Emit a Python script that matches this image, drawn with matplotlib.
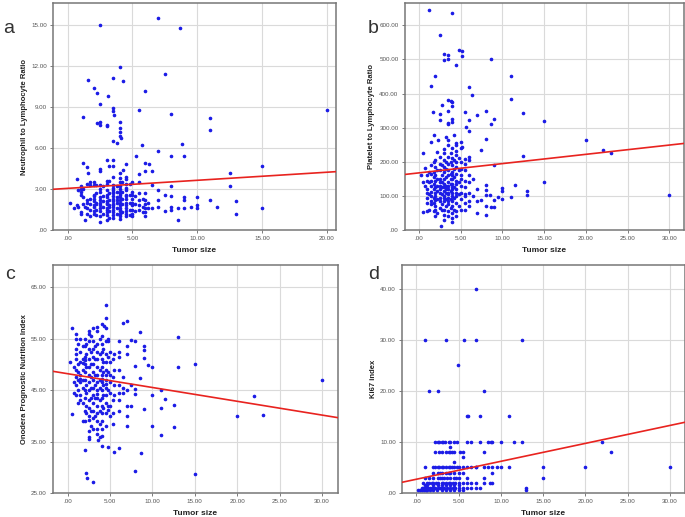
import numpy as np
import matplotlib
matplotlib.use("Agg")
import matplotlib.pyplot as plt
from matplotlib.ticker import FuncFormatter

plt.rcParams["font.family"] = ["Liberation Sans", "DejaVu Sans"]

# ---- panel a : tumor size vs NLR
nlr_pts = [
    (2.5, 15.0), (7.0, 15.5), (8.7, 14.8), (4.0, 11.9), (7.5, 11.4), (3.5, 11.1), (1.6, 11.0),
    (4.3, 10.9), (2.0, 10.4), (6.0, 10.2), (2.3, 10.0), (3.1, 9.8), (2.5, 9.2), (3.5, 8.9),
    (3.5, 8.7), (5.5, 8.8), (8.0, 8.5), (3.6, 8.4), (1.2, 8.3), (11.0, 8.2), (20.0, 8.8),
    (2.5, 7.9), (2.3, 7.8), (2.5, 7.7), (3.0, 7.7), (3.0, 7.6), (4.0, 7.9), (4.0, 7.5),
    (4.0, 7.2), (11.0, 7.3), (4.0, 6.9), (4.1, 6.7), (3.5, 6.5), (3.8, 6.4), (8.8, 6.3),
    (5.7, 6.2), (7.0, 5.8), (5.3, 5.4), (8.0, 5.4), (9.0, 5.4), (3.0, 5.1), (3.5, 5.1),
    (1.2, 4.9), (6.0, 4.9), (6.3, 4.8), (4.5, 4.8), (15.0, 4.7), (3.2, 4.7), (3.5, 4.7),
    (2.5, 4.5), (1.5, 4.6), (2.5, 4.3), (1.6, 4.2), (6.0, 4.3), (6.5, 4.3), (12.5, 4.2),
    (5.5, 4.1), (4.0, 4.2), (4.3, 4.4),
    (0.2, 2.0), (0.5, 1.6), (0.7, 3.7), (0.7, 1.8), (0.8, 2.9), (0.8, 1.7),
    (1.0, 3.2), (1.0, 3.0), (1.0, 2.6), (1.0, 1.3), (1.0, 1.2), (1.0, 2.8),
    (1.2, 3.0), (1.2, 2.4), (1.2, 1.9), (1.3, 0.7), (1.3, 1.7),
    (1.5, 3.4), (1.5, 2.0), (1.5, 1.2), (1.5, 1.6), (1.5, 2.2),
    (1.7, 3.5), (1.7, 3.3), (1.7, 2.3), (1.7, 1.9), (1.7, 1.0), (1.7, 1.5),
    (2.0, 3.5), (2.0, 3.3), (2.0, 2.6), (2.0, 2.5), (2.0, 2.1), (2.0, 1.8), (2.0, 1.4),
    (2.0, 1.2), (2.0, 1.7), (2.0, 2.3),
    (2.2, 3.3), (2.2, 2.7), (2.2, 2.0), (2.2, 1.5), (2.2, 1.1), (2.2, 1.9),
    (2.5, 3.3), (2.5, 3.0), (2.5, 2.8), (2.5, 2.2), (2.5, 2.0), (2.5, 1.8), (2.5, 1.6),
    (2.5, 1.4), (2.5, 1.0), (2.5, 0.6), (2.5, 2.4),
    (2.7, 3.2), (2.7, 2.5), (2.7, 1.7), (2.7, 1.2), (2.7, 2.1),
    (3.0, 3.6), (3.0, 3.4), (3.0, 2.9), (3.0, 2.6), (3.0, 2.4), (3.0, 2.1), (3.0, 1.9),
    (3.0, 1.6), (3.0, 1.3), (3.0, 1.1), (3.0, 0.7), (3.0, 2.0), (3.0, 1.5),
    (3.2, 3.6), (3.2, 2.7), (3.2, 2.2), (3.2, 1.8), (3.2, 1.4), (3.2, 0.9), (3.2, 1.7),
    (3.5, 3.9), (3.5, 3.3), (3.5, 3.1), (3.5, 2.9), (3.5, 2.7), (3.5, 2.5), (3.5, 2.3),
    (3.5, 2.1), (3.5, 1.9), (3.5, 1.7), (3.5, 1.5), (3.5, 1.3), (3.5, 1.1), (3.5, 0.9),
    (3.5, 2.8), (3.5, 1.8),
    (3.8, 3.2), (3.8, 2.8), (3.8, 2.4), (3.8, 2.0), (3.8, 1.6), (3.8, 1.2), (3.8, 2.2),
    (4.0, 3.8), (4.0, 3.5), (4.0, 3.2), (4.0, 3.0), (4.0, 2.8), (4.0, 2.6), (4.0, 2.4),
    (4.0, 2.2), (4.0, 2.0), (4.0, 1.8), (4.0, 1.6), (4.0, 1.4), (4.0, 1.2), (4.0, 1.0),
    (4.0, 0.8), (4.0, 2.7), (4.0, 1.5),
    (4.2, 3.5), (4.2, 2.8), (4.2, 2.3), (4.2, 1.9), (4.2, 1.3),
    (4.5, 3.9), (4.5, 3.7), (4.5, 3.4), (4.5, 3.1), (4.5, 2.9), (4.5, 2.6), (4.5, 2.3),
    (4.5, 2.0), (4.5, 1.8), (4.5, 1.6), (4.5, 1.4), (4.5, 1.2), (4.5, 1.0), (4.5, 2.5),
    (4.8, 3.4), (4.8, 2.6), (4.8, 2.0), (4.8, 1.5), (4.8, 1.1),
    (5.0, 3.5), (5.0, 2.8), (5.0, 2.6), (5.0, 2.3), (5.0, 2.0), (5.0, 1.8), (5.0, 1.5),
    (5.0, 1.2), (5.0, 1.0),
    (5.2, 2.5), (5.2, 1.9), (5.2, 1.4),
    (5.5, 3.5), (5.5, 2.7), (5.5, 2.2), (5.5, 1.8), (5.5, 1.5),
    (5.8, 2.3), (5.8, 1.7), (5.8, 1.3),
    (6.0, 2.7), (6.0, 1.9), (6.0, 1.6), (6.0, 1.3), (6.0, 1.0), (6.0, 2.2),
    (6.2, 2.0), (6.2, 1.6), (6.5, 3.3), (6.5, 1.6),
    (7.0, 2.9), (7.0, 2.2), (7.0, 1.7), (7.5, 2.6), (7.5, 1.4),
    (8.0, 3.2), (8.0, 2.5), (8.0, 1.7), (8.0, 1.5), (8.5, 0.7), (8.5, 1.6),
    (9.0, 2.4), (9.0, 2.2), (9.0, 1.6), (9.5, 1.7), (10.0, 2.4), (10.0, 1.8), (10.0, 1.6),
    (11.0, 2.2), (11.5, 1.7), (12.5, 3.2), (13.0, 2.1), (13.0, 1.2), (15.0, 1.6),
]

# ---- panel b : tumor size vs PLR
plr_pts = [
    (1.2, 645), (4.0, 636), (2.5, 572), (4.8, 528), (5.2, 525), (3.0, 515), (3.5, 512),
    (5.2, 510), (3.0, 497), (3.5, 500), (8.7, 500), (4.5, 485), (11.0, 450), (2.0, 450),
    (1.5, 423), (6.0, 420), (6.4, 395), (11.0, 384), (3.5, 382), (3.8, 378), (4.0, 376),
    (4.0, 363), (2.8, 365), (1.7, 347), (3.5, 348), (5.5, 346), (8.0, 348), (12.5, 343),
    (2.5, 340), (7.0, 338), (9.0, 325), (2.5, 323), (4.0, 324), (6.0, 323), (15.0, 319),
    (3.5, 315), (4.0, 317), (3.5, 312), (8.7, 312), (5.7, 303), (6.0, 290), (1.8, 280),
    (4.2, 280), (3.3, 273), (8.0, 268), (20.0, 265), (3.5, 263), (2.3, 263), (1.5, 257),
    (5.0, 257), (4.5, 255), (5.2, 242), (3.0, 237), (7.5, 235), (22.0, 235), (4.5, 233),
    (23.0, 226), (0.5, 226), (12.5, 218), (6.0, 213), (6.0, 205), (5.5, 208),
    (9.0, 190), (15.0, 140), (11.5, 133), (13.0, 113), (13.0, 103), (10.0, 123), (10.0, 115),
    (10.0, 90), (11.0, 97), (9.5, 96), (9.0, 88), (8.0, 133), (8.0, 117), (8.0, 103),
    (8.0, 70), (8.0, 45), (8.5, 103), (8.7, 68), (9.0, 68), (7.0, 120), (7.0, 85), (7.0, 50),
    (7.5, 88), (6.5, 150), (6.5, 100), (6.0, 160), (6.0, 140), (6.0, 85), (6.0, 110),
    (30.0, 103), (2.7, 12), (3.0, 30), (4.0, 23),
    (0.3, 160), (0.5, 53), (0.5, 140), (0.7, 183), (0.7, 130),
    (1.0, 57), (1.0, 120), (1.0, 160), (1.0, 95), (1.0, 80), (1.0, 110), (1.0, 145),
    (1.2, 105), (1.2, 170), (1.2, 140), (1.2, 60),
    (1.5, 75), (1.5, 100), (1.5, 130), (1.5, 165), (1.5, 190), (1.5, 145), (1.5, 112), (1.5, 85),
    (1.8, 55), (1.8, 80), (1.8, 120), (1.8, 155), (1.8, 200), (1.8, 170), (1.8, 135), (1.8, 95),
    (2.0, 40), (2.0, 70), (2.0, 100), (2.0, 125), (2.0, 160), (2.0, 185), (2.0, 205),
    (2.0, 145), (2.0, 110), (2.0, 88), (2.0, 60),
    (2.2, 50), (2.2, 90), (2.2, 130), (2.2, 175), (2.2, 230), (2.2, 115), (2.2, 150),
    (2.5, 65), (2.5, 95), (2.5, 110), (2.5, 130), (2.5, 150), (2.5, 175), (2.5, 195),
    (2.5, 215), (2.5, 120), (2.5, 85), (2.5, 140),
    (2.8, 75), (2.8, 105), (2.8, 125), (2.8, 160), (2.8, 190), (2.8, 140), (2.8, 58),
    (3.0, 45), (3.0, 60), (3.0, 85), (3.0, 100), (3.0, 115), (3.0, 135), (3.0, 150),
    (3.0, 170), (3.0, 185), (3.0, 205), (3.0, 225), (3.0, 125), (3.0, 95),
    (3.2, 70), (3.2, 90), (3.2, 110), (3.2, 130), (3.2, 155), (3.2, 180), (3.2, 200), (3.2, 120),
    (3.5, 40), (3.5, 55), (3.5, 75), (3.5, 95), (3.5, 105), (3.5, 120), (3.5, 140),
    (3.5, 160), (3.5, 175), (3.5, 195), (3.5, 215), (3.5, 250), (3.5, 110), (3.5, 130), (3.5, 85),
    (3.8, 65), (3.8, 90), (3.8, 115), (3.8, 135), (3.8, 165), (3.8, 200), (3.8, 225), (3.8, 150),
    (4.0, 35), (4.0, 50), (4.0, 70), (4.0, 85), (4.0, 100), (4.0, 120), (4.0, 135),
    (4.0, 150), (4.0, 170), (4.0, 190), (4.0, 210), (4.0, 240), (4.0, 110), (4.0, 160), (4.0, 125),
    (4.2, 60), (4.2, 95), (4.2, 125), (4.2, 155), (4.2, 180), (4.2, 205),
    (4.5, 40), (4.5, 55), (4.5, 80), (4.5, 100), (4.5, 120), (4.5, 145), (4.5, 165),
    (4.5, 185), (4.5, 200), (4.5, 220), (4.5, 250), (4.5, 110), (4.5, 135),
    (4.8, 70), (4.8, 105), (4.8, 140), (4.8, 175), (4.8, 210),
    (5.0, 60), (5.0, 90), (5.0, 110), (5.0, 130), (5.0, 160), (5.0, 180), (5.0, 200),
    (5.0, 150), (5.0, 240),
    (5.5, 60), (5.5, 80), (5.5, 105), (5.5, 125), (5.5, 145), (5.5, 175), (5.5, 195), (5.5, 100),
    (6.0, 70),
]

# ---- panel c : tumor size vs Onodera PNI
pni_pts = [
    (4.5, 61.5), (4.5, 59.0), (7.0, 58.5), (6.5, 58.0), (4.3, 57.5), (0.5, 57.0), (3.0, 57.0),
    (3.5, 57.2), (4.0, 57.8), (8.5, 56.3), (1.0, 56.0), (2.5, 56.0), (13.0, 55.3), (4.7, 55.0),
    (7.5, 54.8), (8.0, 54.5), (6.0, 54.5), (9.0, 53.5), (9.0, 52.8), (7.0, 53.5), (9.0, 51.3),
    (13.0, 49.5), (15.0, 50.0), (8.0, 49.7), (9.5, 49.8), (10.0, 49.5), (30.0, 47.0),
    (8.5, 47.3), (7.5, 46.0), (8.0, 45.2), (8.0, 44.3), (11.0, 45.1), (10.0, 44.0),
    (22.0, 43.9), (11.5, 43.3), (12.5, 42.2), (9.0, 41.3), (11.0, 41.5), (20.0, 40.0),
    (23.0, 40.1), (7.0, 40.0), (10.0, 38.0), (12.5, 37.8), (7.0, 38.1), (11.0, 36.3),
    (5.3, 38.4), (4.7, 34.0), (4.0, 34.2), (5.5, 33.0), (6.0, 33.7), (8.7, 32.8), (2.1, 33.3),
    (8.0, 29.3), (15.0, 28.6), (2.2, 28.8), (2.3, 27.9), (3.0, 27.1), (0.5, 40.3),
    (3.6, 35.3), (2.5, 35.8), (2.5, 35.5), (3.8, 35.9),
    (0.3, 50.5), (0.8, 49.5), (0.8, 46.5), (0.8, 44.5),
    (1.0, 55.0), (1.0, 53.0), (1.0, 51.0), (1.0, 49.0), (1.0, 47.5), (1.0, 46.0), (1.0, 44.0), (1.0, 52.0),
    (1.2, 54.0), (1.2, 50.0), (1.2, 47.0), (1.2, 45.0), (1.2, 42.5), (1.2, 48.5),
    (1.5, 55.0), (1.5, 52.5), (1.5, 50.5), (1.5, 48.0), (1.5, 46.5), (1.5, 44.0), (1.5, 43.0), (1.5, 47.2),
    (1.8, 53.5), (1.8, 51.0), (1.8, 49.0), (1.8, 47.0), (1.8, 45.5), (1.8, 42.5), (1.8, 39.0), (1.8, 50.2),
    (2.0, 55.0), (2.0, 53.5), (2.0, 51.5), (2.0, 50.0), (2.0, 48.5), (2.0, 47.0), (2.0, 45.0),
    (2.0, 43.5), (2.0, 41.0), (2.0, 39.0), (2.0, 50.8),
    (2.2, 54.0), (2.2, 52.0), (2.2, 49.5), (2.2, 46.0), (2.2, 44.5), (2.2, 42.0), (2.2, 40.5),
    (2.5, 56.5), (2.5, 54.5), (2.5, 53.0), (2.5, 51.0), (2.5, 49.5), (2.5, 48.0), (2.5, 46.5),
    (2.5, 45.0), (2.5, 43.0), (2.5, 41.5), (2.5, 40.0), (2.5, 37.0), (2.5, 39.2),
    (2.8, 55.5), (2.8, 52.5), (2.8, 50.0), (2.8, 47.5), (2.8, 45.5), (2.8, 43.5), (2.8, 41.0), (2.8, 38.0),
    (3.0, 54.5), (3.0, 53.0), (3.0, 51.5), (3.0, 50.0), (3.0, 48.5), (3.0, 47.0), (3.0, 45.5),
    (3.0, 44.0), (3.0, 42.5), (3.0, 41.0), (3.0, 39.5), (3.0, 37.5),
    (3.2, 53.5), (3.2, 51.0), (3.2, 48.0), (3.2, 46.0), (3.2, 43.5), (3.2, 40.0),
    (3.5, 56.5), (3.5, 54.0), (3.5, 52.5), (3.5, 51.0), (3.5, 49.5), (3.5, 48.0), (3.5, 46.5),
    (3.5, 45.0), (3.5, 43.5), (3.5, 42.0), (3.5, 40.5), (3.5, 39.0), (3.5, 37.5), (3.5, 36.5), (3.5, 44.2),
    (3.8, 55.0), (3.8, 52.0), (3.8, 49.0), (3.8, 47.0), (3.8, 45.5), (3.8, 43.0), (3.8, 41.0), (3.8, 38.5),
    (4.0, 55.5), (4.0, 54.0), (4.0, 52.5), (4.0, 51.0), (4.0, 49.5), (4.0, 48.0), (4.0, 46.5),
    (4.0, 45.0), (4.0, 43.5), (4.0, 42.0), (4.0, 40.5), (4.0, 39.0), (4.0, 37.5), (4.0, 36.0), (4.0, 47.2),
    (4.2, 53.0), (4.2, 50.5), (4.2, 48.5), (4.2, 46.0), (4.2, 44.0), (4.2, 41.5),
    (4.5, 57.0), (4.5, 54.5), (4.5, 52.0), (4.5, 50.5), (4.5, 49.0), (4.5, 48.0), (4.5, 47.0),
    (4.5, 45.5), (4.5, 44.0), (4.5, 42.5), (4.5, 40.5), (4.5, 38.0), (4.5, 46.2),
    (4.8, 54.5), (4.8, 51.5), (4.8, 48.5), (4.8, 45.0), (4.8, 42.0), (4.8, 41.2),
    (5.0, 52.5), (5.0, 50.5), (5.0, 48.0), (5.0, 46.5), (5.0, 44.5), (5.0, 42.0), (5.0, 40.0),
    (5.3, 51.0), (5.3, 47.5), (5.3, 43.0), (5.3, 40.5),
    (5.5, 52.0), (5.5, 49.0), (5.5, 46.0), (5.5, 44.0),
    (6.0, 52.5), (6.0, 51.5), (6.0, 49.0), (6.0, 46.0), (6.0, 44.5), (6.0, 43.0), (6.0, 41.0),
    (6.5, 47.5), (6.5, 45.5), (6.5, 44.5), (7.0, 52.0), (7.0, 45.0), (7.0, 42.0), (7.5, 42.0),
]

# ---- panel d : tumor size vs Ki67
ki67_pts = [
    (7.0, 40), (1.0, 30), (3.5, 30), (5.6, 30), (7.0, 30), (12.5, 30), (4.9, 25),
    (1.5, 20), (2.5, 20), (8.0, 20), (6.0, 15), (6.1, 15), (7.5, 15), (11.0, 15),
    (2.2, 10), (2.5, 10), (2.7, 10), (3.0, 10), (3.2, 10), (3.4, 10), (3.8, 10), (4.0, 10),
    (4.5, 10), (4.8, 10), (6.0, 10), (6.5, 10), (7.5, 10), (8.5, 10), (8.8, 10), (9.0, 10),
    (10.0, 10), (11.5, 10), (12.5, 10), (22.0, 10),
    (4.0, 9),
    (2.2, 8), (2.7, 8), (3.0, 8), (3.5, 8), (3.8, 8), (4.0, 8), (4.2, 8), (4.5, 8), (5.2, 8),
    (5.5, 8), (8.0, 8), (23.0, 8),
    (5.5, 7), (4.5, 6),
    (1.0, 5), (2.0, 5), (2.2, 5), (2.5, 5), (2.7, 5), (3.0, 5), (3.2, 5), (3.5, 5), (3.8, 5),
    (4.0, 5), (4.2, 5), (4.5, 5), (4.8, 5), (5.0, 5), (5.5, 5), (6.0, 5), (6.5, 5), (7.0, 5),
    (7.1, 5), (8.0, 5), (8.5, 5), (9.0, 5), (9.5, 5), (10.0, 5), (11.0, 5), (15.0, 5),
    (20.0, 5), (30.0, 5),
    (2.0, 4), (2.5, 4), (2.8, 4), (3.0, 4), (3.5, 4), (3.8, 4), (4.0, 4), (4.5, 4), (5.0, 4),
    (5.5, 4), (9.0, 4),
    (1.0, 3), (1.5, 3), (2.0, 3), (2.5, 3), (2.8, 3), (3.0, 3), (3.3, 3), (3.6, 3), (4.0, 3),
    (4.5, 3), (4.7, 3), (5.0, 3), (6.0, 3), (8.0, 3), (15.0, 3),
    (0.8, 2), (1.2, 2), (1.5, 2), (1.8, 2), (2.0, 2), (2.3, 2), (2.6, 2), (3.0, 2), (3.2, 2),
    (3.5, 2), (3.8, 2), (4.0, 2), (4.3, 2), (4.6, 2), (5.0, 2), (5.5, 2), (6.0, 2), (6.5, 2),
    (7.0, 2), (8.0, 2), (8.7, 2), (9.0, 2),
    (1.0, 1.5), (1.3, 1.5), (2.0, 1.5), (2.5, 1.5), (3.0, 1.5), (3.5, 1.5), (4.0, 1.5),
    (4.5, 1.5), (5.0, 1.5),
    (0.6, 1), (0.8, 1), (1.0, 1), (1.2, 1), (1.4, 1), (1.6, 1), (1.8, 1), (2.0, 1), (2.2, 1),
    (2.5, 1), (2.8, 1), (3.0, 1), (3.3, 1), (3.6, 1), (4.0, 1), (4.3, 1), (4.6, 1), (5.0, 1),
    (5.5, 1), (6.0, 1), (6.5, 1), (7.0, 1), (7.5, 1), (13.0, 1),
    (0.2, 0.5), (0.4, 0.5), (0.6, 0.5), (0.9, 0.5), (1.1, 0.5), (1.3, 0.5), (1.6, 0.5),
    (2.0, 0.5), (2.4, 0.5), (3.0, 0.5), (3.5, 0.5), (4.0, 0.5), (4.5, 0.5), (5.0, 0.5),
    (5.5, 0.5), (13.0, 0.5),
]

# fitted lines (intercept, slope)
fit_a = (3.05, 0.059)
fit_b = (167.5, 2.72)
fit_c = (48.2, -0.268)
fit_d = (2.7, 0.351)

panels = [
    ("a", nlr_pts, fit_a, "Neutrophil to Lymphocyte Ratio", (-1.13, 20.7), (0, 16.6), [0, 5, 10, 15, 20], [0, 3, 6, 9, 12, 15]),
    ("b", plr_pts, fit_b, "Platelet to Lymphocyte Ratio", (-1.67, 31.7), (0, 665), [0, 5, 10, 15, 20, 25, 30], [0, 100, 200, 300, 400, 500, 600]),
    ("c", pni_pts, fit_c, "Onodera Prognostic Nutrition Index", (-1.73, 31.9), (25, 69.4), [0, 5, 10, 15, 20, 25, 30], [25, 35, 45, 55, 65]),
    ("d", ki67_pts, fit_d, "Ki67 index", (-1.7, 31.8), (0, 44.6), [0, 5, 10, 15, 20, 25, 30], [0, 10, 20, 30, 40]),
]

rects = [
    [0.0774, 0.555, 0.413, 0.439],
    [0.591, 0.555, 0.407, 0.439],
    [0.0774, 0.0464, 0.416, 0.4416],
    [0.587, 0.0464, 0.413, 0.4404],
]
letter_pos = [(0.004, 0.937), (0.537, 0.937), (0.008, 0.461), (0.537, 0.461)]
ylabel_x = [28, 375, 28, 377]   # pixel x of y-axis title centre


def spss_fmt(v, pos):
    s = "%.2f" % v
    if s.startswith("0."):
        s = s[1:]
    return s


fig = plt.figure(figsize=(6.85, 5.17), dpi=100)

for (letter, pts, fit, ylab, xl, yl, xt, yt), r, lp, yx in zip(panels, rects, letter_pos, ylabel_x):
    ax = fig.add_axes(r)
    xs = [p[0] for p in pts]
    ys = [p[1] for p in pts]
    ax.grid(True, color="#dadada", lw=0.8)
    ax.set_axisbelow(True)
    ax.plot(xs, ys, "o", ms=1.6, color="#1c1ce6", mec="#1c1ce6", zorder=3)
    lx = np.array(xl)
    ax.plot(lx, fit[0] + fit[1] * lx, color="#e8231f", lw=1.2, zorder=4)
    ax.set_xlim(xl)
    ax.set_ylim(yl)
    ax.set_xticks(xt)
    ax.set_yticks(yt)
    ax.xaxis.set_major_formatter(FuncFormatter(spss_fmt))
    ax.yaxis.set_major_formatter(FuncFormatter(spss_fmt))
    ax.tick_params(labelsize=4.5, length=2.5, width=0.6, color="#666666", labelcolor="#555555", pad=2)
    for sp in ax.spines.values():
        sp.set_color("#777777")
        sp.set_linewidth(1.1)
    ax.set_xlabel("Tumor size", fontsize=6, fontweight="bold", color="#222222", labelpad=4)
    ax.set_ylabel(ylab, fontsize=5.5, fontweight="bold", color="#222222")
    ax.yaxis.set_label_coords((yx - r[0] * 685) / (r[2] * 685), 0.5)
    fig.text(lp[0], lp[1], letter, fontsize=14, color="#333333")

fig.savefig("out.png", dpi=100)
